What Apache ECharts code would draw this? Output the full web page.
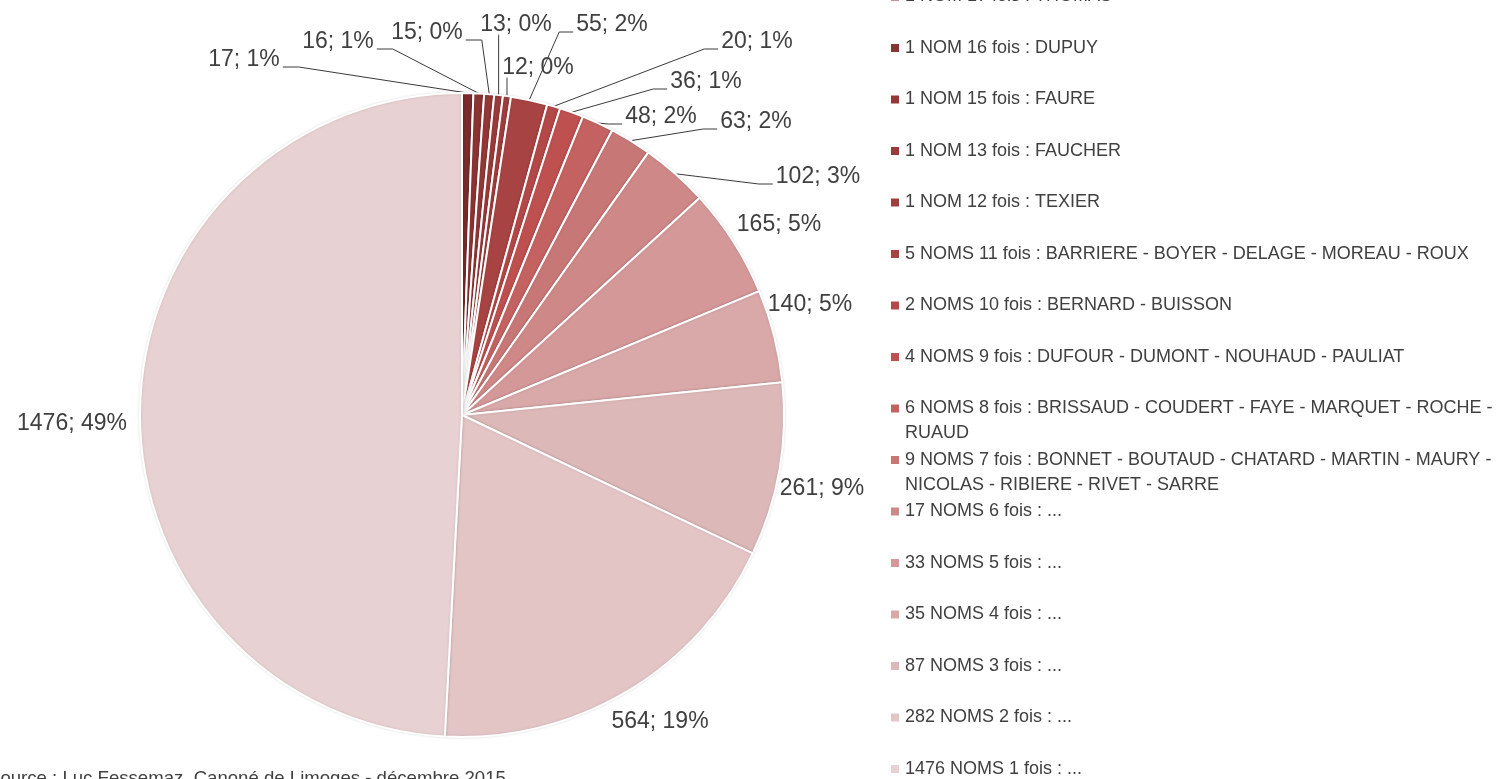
<!DOCTYPE html>
<html>
<head>
<meta charset="utf-8">
<title>Noms de famille</title>
<script src="https://cdn.jsdelivr.net/npm/echarts@6/dist/echarts.min.js"></script>
<style>
  html, body { margin: 0; padding: 0; background: #fff; }
  #chart { width: 1510px; height: 779px; }
</style>
</head>
<body>
<div id="chart"></div>
<script>
// data
const names = [
    '1 NOM 17 fois : THOMAS',
    '1 NOM 16 fois : DUPUY',
    '1 NOM 15 fois : FAURE',
    '1 NOM 13 fois : FAUCHER',
    '1 NOM 12 fois : TEXIER',
    '5 NOMS 11 fois : BARRIERE - BOYER - DELAGE - MOREAU - ROUX',
    '2 NOMS 10 fois : BERNARD - BUISSON',
    '4 NOMS 9 fois : DUFOUR - DUMONT - NOUHAUD - PAULIAT',
    '6 NOMS 8 fois : BRISSAUD - COUDERT - FAYE - MARQUET - ROCHE - RUAUD',
    '9 NOMS 7 fois : BONNET - BOUTAUD - CHATARD - MARTIN - MAURY - NICOLAS - RIBIERE - RIVET - SARRE',
    '17 NOMS 6 fois : ...',
    '33 NOMS 5 fois : ...',
    '35 NOMS 4 fois : ...',
    '87 NOMS 3 fois : ...',
    '282 NOMS 2 fois : ...',
    '1476 NOMS 1 fois : ...'
];
const values = [17, 16, 15, 13, 12, 55, 20, 36, 48, 63, 102, 165, 140, 261, 564, 1476];
const sourceText = 'Source : Luc Fessemaz, Canoné de Limoges - décembre 2015';

// styling
const colors = [
    '#7b2b2b', '#8c3333', '#933737', '#9a3a3a', '#a03d3d', '#a84343',
    '#b44848', '#bf5050', '#c46262', '#c87777', '#cf8888', '#d49898',
    '#d9a8a8', '#ddb8b8', '#e3c5c6', '#e8d1d2'
];
const font = '"Liberation Sans", Arial, sans-serif';
const textColor = '#404040';

// where the Excel-like labels sit: [cx, cy, side the leader line leaves from]
const labelPos = [
    [244, 60, 'R'], [338, 42, 'R'], [427, 33, 'R'], [516, 25, 'B'],
    [538, 68, 'B'], [612, 25, 'L'], [757, 42, 'L'], [706, 82, 'L'],
    [661, 117, 'L'], [756, 122, 'L'], [818, 177, 'L'], [779, 225, null],
    [810, 305, null], [822, 489, null], [660, 722, null], [72, 424, null]
];

const total = values.reduce((a, b) => a + b, 0);

const chart = echarts.init(document.getElementById('chart'));

// legend: one block per entry so long entries wrap like in Excel,
// icon kept on the first line of a wrapped entry
const legendLeft = 889, legendFirst = -3.5, legendPitch = 51.5, wrapWidth = 600;
const ctx = document.createElement('canvas').getContext('2d');
ctx.font = '18px ' + font;

const legends = names.map((n, i) => {
    const wrapped = ctx.measureText(n).width > wrapWidth;
    const c = legendFirst + i * legendPitch;
    return {
        data: [n],
        orient: 'vertical',
        left: legendLeft,
        top: c - (wrapped ? 37.5 : 12.5),
        padding: 0,
        icon: 'rect',
        itemWidth: 10,
        itemHeight: 10,
        formatter: name => (wrapped ? '\n' : '') + name,
        textStyle: {
            fontFamily: font,
            fontSize: 18,
            color: textColor,
            lineHeight: 25,
            width: wrapWidth,
            overflow: 'break'
        }
    };
});

const option = {
    animation: false,
    color: colors,
    title: {
        text: sourceText,
        left: -12,
        top: 769,
        padding: 0,
        textStyle: { fontFamily: font, fontSize: 18.6, fontWeight: 'normal', color: textColor }
    },
    legend: legends,
    series: [{
        type: 'pie',
        center: [462, 415],
        radius: 322,
        startAngle: 90,
        clockwise: true,
        avoidLabelOverlap: false,
        itemStyle: {
            borderColor: '#fff',
            borderWidth: 2,
            shadowBlur: 3,
            shadowColor: 'rgba(0,0,0,0.12)'
        },
        label: {
            position: 'outside',
            fontFamily: font,
            fontSize: 23,
            color: textColor,
            formatter: p => p.value + '; ' + Math.round(p.value / total * 100) + '%'
        },
        labelLine: {
            length: 5,
            length2: 5,
            lineStyle: { color: '#3a3a3a', width: 1 }
        },
        labelLayout: function (p) {
            const pos = labelPos[p.dataIndex];
            const out = { x: pos[0], y: pos[1], align: 'center', verticalAlign: 'middle' };
            if (pos[2] && p.labelLinePoints) {
                const w = p.labelRect.width, h = p.labelRect.height;
                const start = p.labelLinePoints[0];
                let end, bend;
                if (pos[2] === 'R') {
                    end = [pos[0] + w / 2 + 3, pos[1] + 7];
                    bend = [end[0] + 16, end[1]];
                } else if (pos[2] === 'L') {
                    end = [pos[0] - w / 2 - 3, pos[1] + 7];
                    bend = [end[0] - 14, end[1]];
                } else {
                    // straight down from under the label
                    end = [start[0], pos[1] + h / 2 - 2];
                    bend = [start[0], end[1] + 1];
                }
                out.labelLinePoints = [start, bend, end];
            }
            return out;
        },
        data: names.map((n, i) => ({
            name: n,
            value: values[i],
            labelLine: { show: labelPos[i][2] != null }
        }))
    }]
};

chart.setOption(option);
</script>
</body>
</html>
